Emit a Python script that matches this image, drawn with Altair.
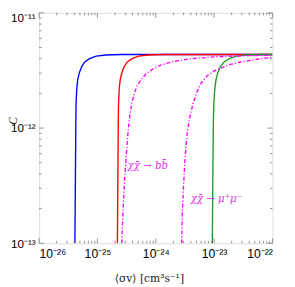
import altair as alt
import pandas as pd

# --- data (cross-section <sigma v> vs C) ---
blue_x = [4.11e-26, 4.19e-26, 4.27e-26, 4.30e-26, 4.42e-26, 4.59e-26, 4.88e-26, 5.35e-26,
          6.07e-26, 7.36e-26, 9.5e-26, 1.4e-25, 2.6e-25, 1e-22]
blue_y = [1.0e-13, 3.66e-13, 1.17e-12, 1.62e-12, 2.17e-12, 2.63e-12, 3.0e-12, 3.4e-12,
          3.75e-12, 4.0e-12, 4.21e-12, 4.31e-12, 4.35e-12, 4.35e-12]

red_x = [2.20e-25, 2.24e-25, 2.28e-25, 2.30e-25, 2.36e-25, 2.46e-25, 2.61e-25, 2.86e-25,
         3.25e-25, 3.94e-25, 5.08e-25, 7.5e-25, 1.39e-24, 1e-22]
red_y = [1.0e-13, 3.66e-13, 1.17e-12, 1.62e-12, 2.17e-12, 2.63e-12, 3.0e-12, 3.4e-12,
         3.75e-12, 4.0e-12, 4.21e-12, 4.31e-12, 4.35e-12, 4.35e-12]

green_x = [9.33e-24, 9.51e-24, 9.73e-24, 9.89e-24, 1.027e-23, 1.08e-23, 1.152e-23, 1.274e-23,
           1.485e-23, 1.827e-23, 2.417e-23, 3.55e-23, 6.31e-23, 1e-22]
green_y = [1.0e-13, 3.66e-13, 1.17e-12, 1.62e-12, 2.17e-12, 2.63e-12, 3.0e-12, 3.4e-12,
           3.75e-12, 4.0e-12, 4.21e-12, 4.31e-12, 4.35e-12, 4.35e-12]

bb_x = [2.61e-25, 2.765e-25, 2.93e-25, 3.10e-25, 3.22e-25, 3.375e-25, 3.59e-25, 3.905e-25,
        4.30e-25, 4.82e-25, 5.62e-25, 6.81e-25, 8.91e-25, 1.21e-24, 1.92e-24, 3.83e-24,
        1.0e-23, 3.16e-23, 1e-22]
bb_y = [1.0e-13, 2.05e-13, 3.66e-13, 5.38e-13, 7.20e-13, 9.62e-13, 1.286e-12, 1.654e-12,
        2.007e-12, 2.343e-12, 2.63e-12, 2.955e-12, 3.255e-12, 3.517e-12, 3.763e-12, 3.99e-12,
        4.147e-12, 4.243e-12, 4.293e-12]

mumu_x = [2.786e-24, 2.85e-24, 2.985e-24, 3.126e-24, 3.285e-24, 3.48e-24, 3.83e-24, 4.38e-24,
          5.15e-24, 6.07e-24, 7.64e-24, 1.0e-23, 1.308e-23, 1.848e-23, 2.71e-23, 4.30e-23,
          6.31e-23, 1e-22]
mumu_y = [1.0e-13, 1.822e-13, 3.01e-13, 4.89e-13, 6.79e-13, 9.26e-13, 1.237e-12, 1.654e-12,
          2.086e-12, 2.483e-12, 2.843e-12, 3.132e-12, 3.319e-12, 3.55e-12, 3.727e-12, 3.875e-12,
          4.005e-12, 4.106e-12]

label_text = ["χχ̄ → bb̄", "χχ̄ → μ⁺μ⁻"]
label_x = [3.29e-25, 3.98e-24]
label_y = [4.7e-13, 2.44e-13]

x_ticks = [1e-26, 1e-25, 1e-24, 1e-23, 1e-22]
y_ticks = [1e-13, 1e-12, 1e-11]


def frame(name, xs, ys):
    return pd.DataFrame({"series": name, "x": xs, "y": ys, "i": list(range(len(xs)))})


solid = pd.concat([frame("blue", blue_x, blue_y), frame("red", red_x, red_y),
                   frame("green", green_x, green_y)])
dashed = pd.concat([frame("bb", bb_x, bb_y), frame("mumu", mumu_x, mumu_y)])
labels = pd.DataFrame({"t": label_text, "x": label_x, "y": label_y})

x_minor = [m * 10.0 ** e for e in range(-26, -22) for m in range(2, 10)]
y_minor = [m * 10.0 ** e for e in range(-13, -11) for m in range(2, 10)]

W, H = 240, 237
xs = alt.Scale(type="log", domain=[1e-26, 1e-22], nice=False)
ys = alt.Scale(type="log", domain=[1e-13, 1e-11], nice=False)

x_expr = ("datum.value < 3e-26 ? '10⁻²⁶' : datum.value < 3e-25 ? '10⁻²⁵' : "
          "datum.value < 3e-24 ? '10⁻²⁴' : datum.value < 3e-23 ? '10⁻²³' : '10⁻²²'")
y_expr = ("datum.value < 3e-13 ? '10⁻¹³' : datum.value < 3e-12 ? '10⁻¹²' : '10⁻¹¹'")

x_axis = alt.Axis(values=x_ticks, labelExpr=x_expr, ticks=False, domain=False, grid=False,
                  labelFont="Liberation Sans", labelFontSize=12.5, labelColor="black",
                  labelPadding=5, title="⟨σv⟩  [cm³s⁻¹]", titleFont="DejaVu Serif",
                  titleFontSize=11, titleFontWeight="normal", titleY=30, titleX=113,
                  titleColor="#222222")
y_axis = alt.Axis(values=y_ticks, labelExpr=y_expr, ticks=False, domain=False, grid=False,
                  labelFont="Liberation Sans", labelFontSize=12, labelColor="black",
                  labelPadding=4,
                  labelOffset={"condition": {"test": "datum.value > 5e-12", "value": 5},
                               "value": 0},
                  title="C", titleFont="Liberation Serif",
                  titleFontStyle="italic", titleFontSize=12, titleFontWeight="normal",
                  titleX=-27, titleY=H / 2 - 8, titleBaseline="middle", titleColor="#222222")

solid_layer = alt.Chart(solid).mark_line(strokeWidth=1.4, clip=True).encode(
    x=alt.X("x:Q", scale=xs, axis=x_axis),
    y=alt.Y("y:Q", scale=ys, axis=y_axis),
    color=alt.Color("series:N", scale=alt.Scale(domain=["blue", "red", "green"],
                                                range=["#0000ff", "#ff0000", "#1f9a1f"]),
                    legend=None),
    order="i:Q",
)

dashed_layer = alt.Chart(dashed).mark_line(strokeWidth=1.4, color="#ff00ff",
                                           strokeDash=[4, 2, 1.2, 2], clip=True).encode(
    x=alt.X("x:Q", scale=xs),
    y=alt.Y("y:Q", scale=ys),
    detail="series:N",
    order="i:Q",
)

text_layer = alt.Chart(labels).mark_text(align="left", baseline="middle", color="#e030e0",
                                         font="DejaVu Serif", fontStyle="italic",
                                         fontSize=10.5).encode(
    x=alt.X("x:Q", scale=xs), y=alt.Y("y:Q", scale=ys), text="t:N")

tick_col = "#777777"
xmin_df = pd.DataFrame({"v": x_minor})
xmaj_df = pd.DataFrame({"v": x_ticks})
ymin_df = pd.DataFrame({"v": y_minor})
ymaj_df = pd.DataFrame({"v": y_ticks})


def xticks(df, length):
    bot = alt.Chart(df).mark_rule(color=tick_col, strokeWidth=0.8).encode(
        x=alt.X("v:Q", scale=xs), y=alt.value(H), y2=alt.value(H - length))
    top = alt.Chart(df).mark_rule(color=tick_col, strokeWidth=0.8).encode(
        x=alt.X("v:Q", scale=xs), y=alt.value(0), y2=alt.value(length))
    return [bot, top]


def yticks(df, length):
    lft = alt.Chart(df).mark_rule(color=tick_col, strokeWidth=0.8).encode(
        y=alt.Y("v:Q", scale=ys), x=alt.value(0), x2=alt.value(length))
    rgt = alt.Chart(df).mark_rule(color=tick_col, strokeWidth=0.8).encode(
        y=alt.Y("v:Q", scale=ys), x=alt.value(W), x2=alt.value(W - length))
    return [lft, rgt]


tick_layers = xticks(xmin_df, 2.5) + xticks(xmaj_df, 5) + yticks(ymin_df, 2.5) + yticks(ymaj_df, 5)

chart = alt.layer(solid_layer, dashed_layer, text_layer, *tick_layers).properties(
    width=W, height=H,
    autosize=alt.AutoSizeParams(type="none"),
    padding={"left": 32, "top": 1, "right": 15, "bottom": 41},
).configure_view(stroke="#808080", strokeWidth=1).configure(background="white")

chart.save("out.html", embed_options={"renderer": "svg", "actions": False})
